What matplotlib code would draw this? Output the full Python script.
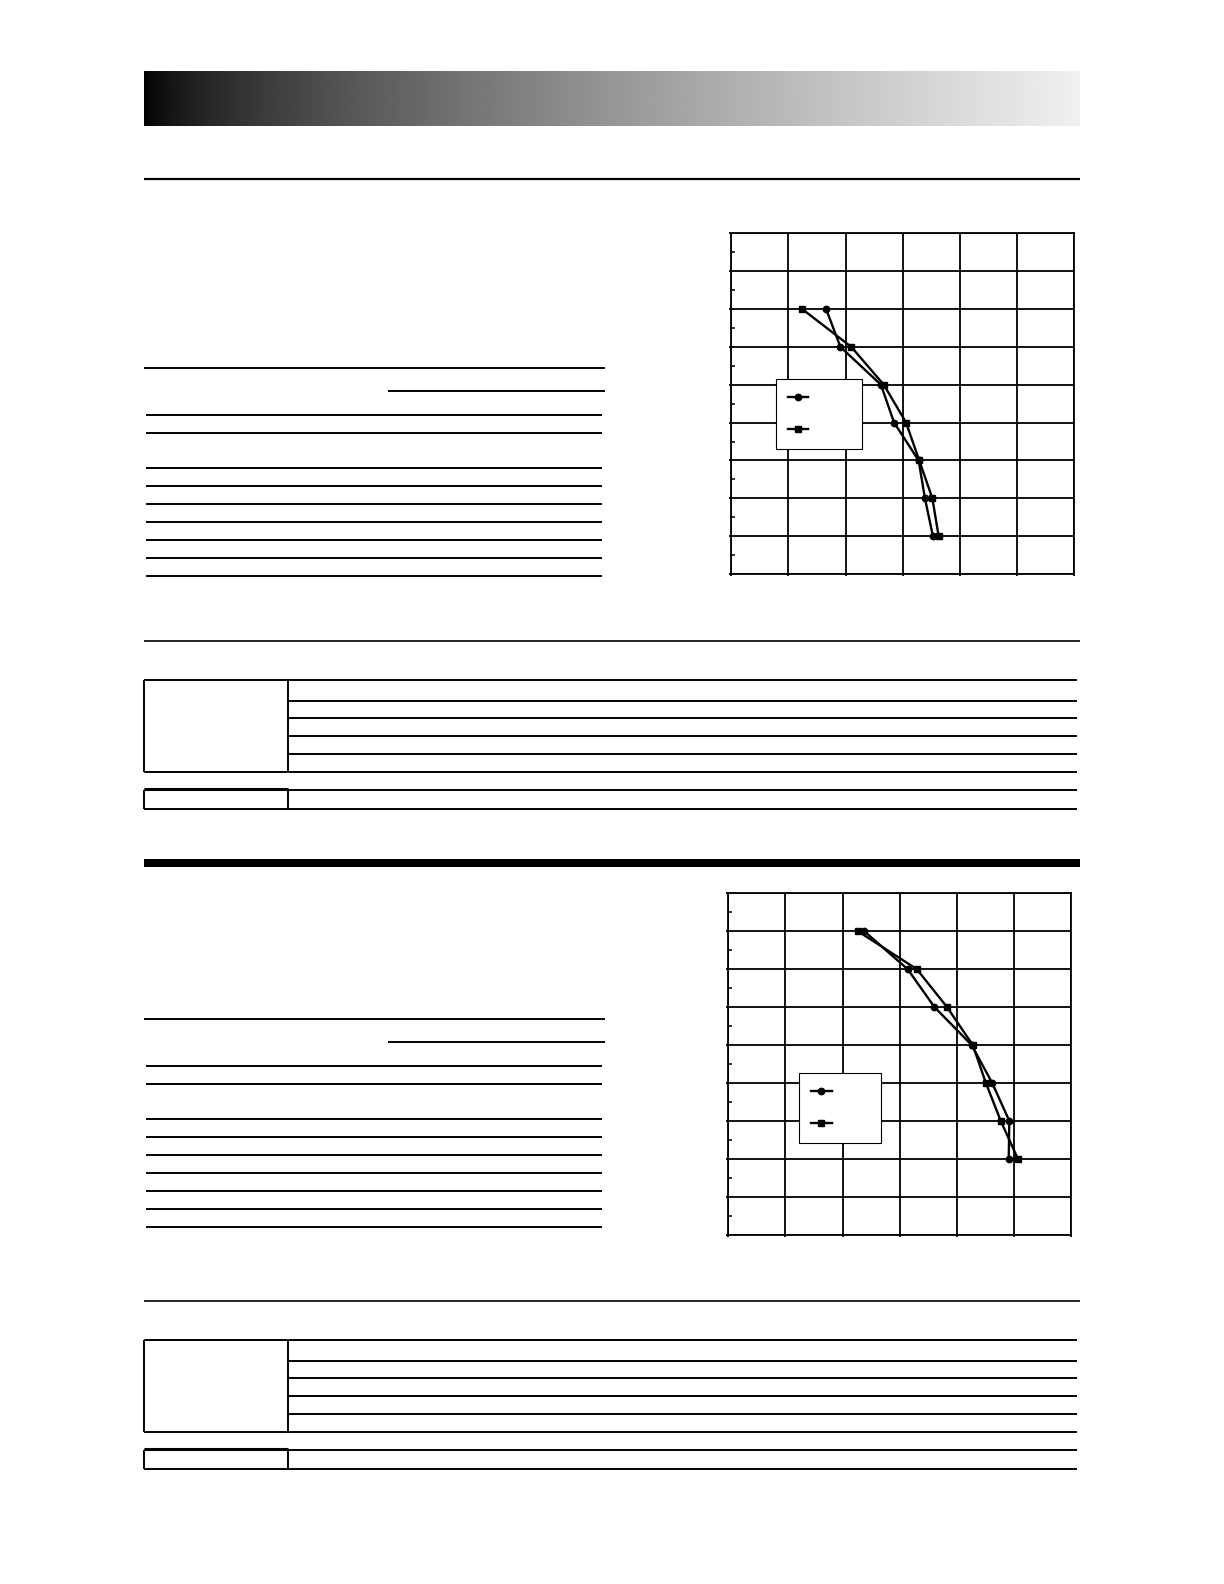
import numpy as np
import matplotlib
matplotlib.use("Agg")
import matplotlib.pyplot as plt
from matplotlib.ticker import MultipleLocator

c1_y = [7, 6, 5, 4, 3, 2, 1]
c1_circle_x = [1.66, 1.91, 2.62, 2.85, 3.28, 3.39, 3.53]
c1_square_x = [1.24, 2.10, 2.67, 3.06, 3.29, 3.52, 3.63]

c2_y = [8, 7, 6, 5, 4, 3, 2]
c2_circle_x = [2.38, 3.14, 3.61, 4.26, 4.62, 4.92, 4.91]
c2_square_x = [2.27, 3.30, 3.83, 4.28, 4.51, 4.77, 5.07]

x_max, y_max = 6, 9

W, H = 1224, 1584
fig = plt.figure(figsize=(W / 100, H / 100), dpi=100)
fig.patch.set_facecolor("white")

# ---------------- page layer (pixel coordinates) ----------------
pg = fig.add_axes([0, 0, 1, 1], zorder=0)
pg.set_xlim(0, W)
pg.set_ylim(H, 0)
pg.axis("off")

LW = 1.4
# header gradient bar
t = np.linspace(0.0, 1.0, 936)
grad = 0.94 * t ** 0.68
pg.imshow(grad[np.newaxis, :], cmap="gray", vmin=0, vmax=1, aspect="auto",
          extent=(144, 1080, 126, 71.5), interpolation="bilinear")
pg.hlines(179.3, 144, 1080, color="k", lw=1.6)


def table(y0):
    pg.hlines(y0 + 368.3, 144, 605, color="k", lw=LW)
    pg.hlines(y0 + 391.3, 388, 605, color="k", lw=LW)
    for yy in [415.3, 433.3, 468.3, 486.3, 504.3, 522.3, 540.3, 558.3, 576.3]:
        pg.hlines(y0 + yy, 146, 602, color="k", lw=LW)


def boxes(y0):
    pg.hlines(y0 + 641.3, 144, 1080, color="k", lw=1.2)
    pg.hlines([y0 + 680, y0 + 772.3], 144, 1076.7, color="k", lw=LW)
    pg.hlines([y0 + 701, y0 + 718.3, y0 + 736.3, y0 + 754.3], 287.6, 1076.7, color="k", lw=LW)
    pg.vlines([144, 287.6], y0 + 680, y0 + 772.3, color="k", lw=LW)
    pg.hlines([y0 + 790.3, y0 + 808.7], 144, 1076.7, color="k", lw=LW)
    pg.hlines(y0 + 789.3, 144, 287.6, color="k", lw=2.2)
    pg.vlines([144, 287.6], y0 + 790.3, y0 + 808.7, color="k", lw=LW)


table(0)
boxes(0)
pg.fill_between([144, 1080], 859, 866.7, color="k", lw=0)
table(651)
boxes(660)


# ---------------- charts ----------------
def chart(left, right, top, bottom, cx, sx, ys, leg_box):
    ax = fig.add_axes([left / W, 1 - bottom / H, (right - left) / W, (bottom - top) / H], zorder=2)
    ax.set_xlim(0, x_max)
    ax.set_ylim(0, y_max)
    ax.xaxis.set_major_locator(MultipleLocator(1))
    ax.yaxis.set_major_locator(MultipleLocator(1))
    ax.yaxis.set_minor_locator(MultipleLocator(0.5))
    ax.grid(True, which="major", color="k", lw=1.3)
    ax.set_axisbelow(True)
    for s in ax.spines.values():
        s.set_linewidth(1.3)
        s.set_color("k")
    ax.tick_params(which="major", direction="out", length=1.6, width=1.3,
                   labelbottom=False, labelleft=False)
    ax.tick_params(axis="y", which="minor", direction="in", length=2.8, width=1.1)
    ax.tick_params(axis="x", which="minor", length=0)
    l1, = ax.plot(cx, ys, color="k", lw=1.7, marker="o", ms=4.6, mfc="k", mec="k", zorder=3)
    l2, = ax.plot(sx, ys, color="k", lw=1.7, marker="s", ms=4.6, mfc="k", mec="k", zorder=3)
    lx0, lx1, lyt = leg_box
    leg = ax.legend([l1, l2], [" ", " "], loc="upper left",
                    bbox_to_anchor=(lx0, 0, lx1 - lx0, lyt), mode="expand",
                    fontsize=10, borderpad=0.85, labelspacing=1.3, handlelength=1.49,
                    handletextpad=0.4, borderaxespad=0, fancybox=False, framealpha=1,
                    edgecolor="k")
    leg.get_frame().set_linewidth(0.8)
    return ax


chart(731.3, 1074, 233.3, 574, c1_circle_x, c1_square_x, c1_y, (0.1296, 0.382, 0.5715))
chart(728.3, 1071, 893.3, 1234.7, c2_circle_x, c2_square_x, c2_y, (0.2072, 0.4465, 0.4728))

fig.savefig("out.png", dpi=100, facecolor="white")
